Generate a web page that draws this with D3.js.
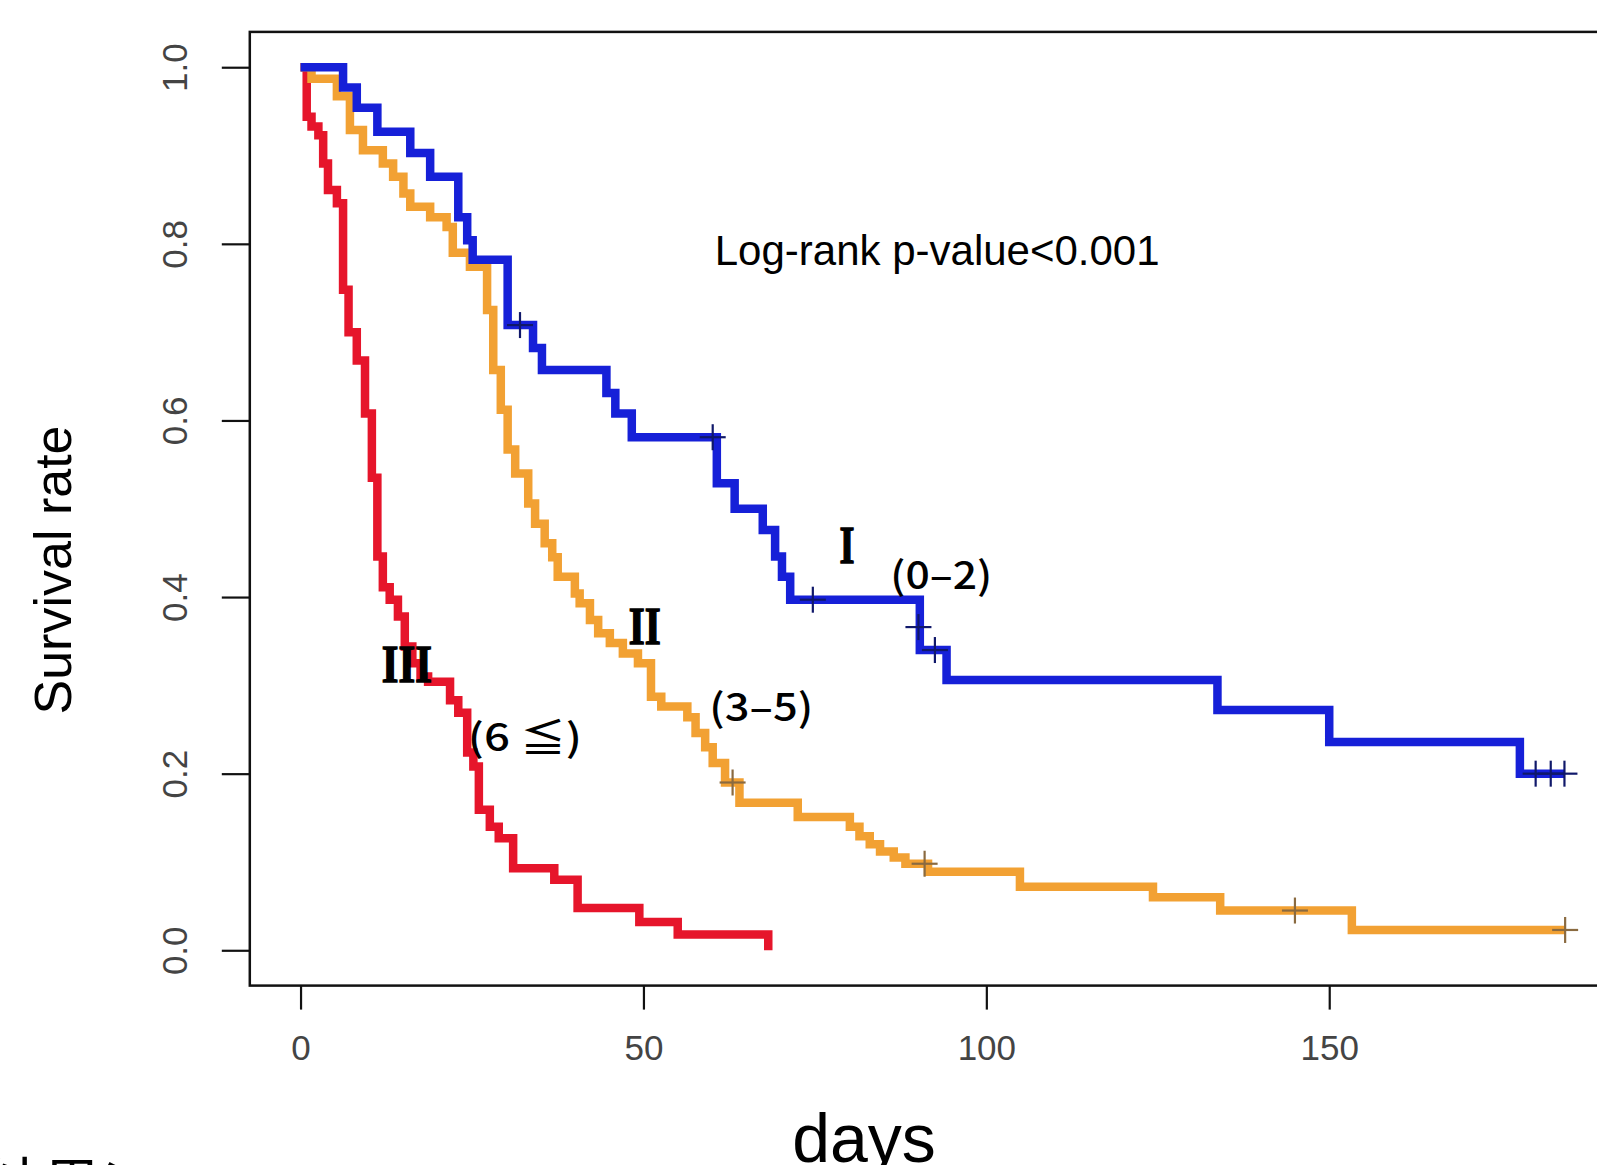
<!DOCTYPE html>
<html>
<head>
<meta charset="utf-8">
<script src="https://cdn.jsdelivr.net/npm/d3@7"></script>
<style>
  html, body { margin: 0; padding: 0; background: #fff; overflow: hidden; }
  svg { display: block; }
</style>
</head>
<body>
<div id="chart"></div>
<script>
// Kaplan-Meier steps: [day, survival after the drop]
const groupISteps = [[0,1],[6.2,0.977],[8.2,0.954],[11.2,0.927],[16.0,0.903],[18.9,0.876],[23.0,0.83],[24.3,0.804],[25.1,0.782],[30.2,0.708],[33.9,0.682],[35.2,0.657],[44.6,0.631],[45.9,0.608],[48.3,0.581],[60.7,0.529],[63.3,0.50],[67.4,0.476],[69.2,0.446],[70.2,0.423],[71.4,0.397],[90.3,0.34],[94.2,0.306],[133.7,0.272],[150.0,0.236],[177.8,0.2],[184.3,0.2]];
const groupIISteps = [[0,1],[1.6,0.987],[5.3,0.967],[7.2,0.929],[9.1,0.906],[12.0,0.891],[13.5,0.876],[15.0,0.857],[16.0,0.842],[18.9,0.83],[21.3,0.819],[22.2,0.79],[24.7,0.774],[27.2,0.725],[28.1,0.657],[29.2,0.612],[30.2,0.567],[31.3,0.54],[33.2,0.506],[34.2,0.483],[35.6,0.461],[36.7,0.445],[37.5,0.423],[40.0,0.404],[40.7,0.393],[42.2,0.374],[43.4,0.359],[45.1,0.348],[47.0,0.336],[49.2,0.325],[51.1,0.287],[52.6,0.276],[56.4,0.264],[57.6,0.246],[59.0,0.23],[60.1,0.212],[61.9,0.19],[64.0,0.167],[72.5,0.151],[80.1,0.14],[81.5,0.129],[83.0,0.12],[84.5,0.112],[86.5,0.105],[88.2,0.098],[91.5,0.089],[104.9,0.072],[124.3,0.06],[134.1,0.045],[153.3,0.023],[184.4,0.023]];
const groupIIISteps = [[0,1],[0.9,0.944],[1.6,0.933],[2.6,0.923],[3.3,0.891],[4.0,0.861],[5.3,0.846],[6.2,0.748],[7.0,0.70],[8.2,0.668],[9.4,0.608],[10.4,0.535],[11.2,0.446],[12.0,0.411],[13.0,0.397],[14.2,0.378],[15.2,0.344],[16.3,0.325],[17.5,0.31],[18.6,0.304],[21.8,0.283],[23.0,0.269],[24.3,0.224],[25.2,0.208],[26.0,0.159],[27.6,0.14],[28.9,0.127],[31.0,0.093],[37.0,0.08],[40.4,0.048],[49.4,0.032],[55.0,0.018],[68.2,0]];

// censored observations ("+" marks)
const groupICensored = [[32.0,0.708],[60.1,0.581],[74.7,0.397],[90.1,0.366],[92.5,0.34],[180.1,0.2],[182.3,0.2],[184.3,0.2]];
const groupIICensored = [[63.0,0.19],[91.0,0.098],[145.0,0.045],[184.4,0.023]];

const xTicks = [0, 50, 100, 150];
const yTicks = [0, 0.2, 0.4, 0.6, 0.8, 1.0];

// text labels placed in data coordinates
const groupLabels = [
  {roman: "I",   rx: 79.7, ry: 0.438, rw: 15, range: "(0–2)", tx: 86.0, ty: 0.409, tw: 102},
  {roman: "II",  rx: 50.2, ry: 0.347, rw: 32, range: "(3–5)", tx: 59.6, ty: 0.260, tw: 104},
  {roman: "III", rx: 15.5, ry: 0.304, rw: 50, range: "(6 ≦)", tx: 24.4, ty: 0.226, tw: 114}
];

const width = 1597, height = 1165;

const svg = d3.select("#chart").append("svg")
    .attr("width", width)
    .attr("height", height)
    .attr("viewBox", `0 0 ${width} ${height}`);

svg.append("rect").attr("width", width).attr("height", height).attr("fill", "#fff");

const x = d3.scaleLinear().domain([-7.4, 192.4]).range([249.8, 1620]);
const y = d3.scaleLinear().domain([-0.04, 1.04]).range([985.6, 31.9]);

// plot box (right side runs off the page)
svg.append("rect")
    .attr("x", x.range()[0])
    .attr("y", y.range()[1])
    .attr("width", x.range()[1] - x.range()[0])
    .attr("height", y.range()[0] - y.range()[1])
    .attr("fill", "none")
    .attr("stroke", "#111")
    .attr("stroke-width", 2.5);

const yAxis = svg.append("g")
    .attr("transform", `translate(${x.range()[0]},0)`)
    .call(d3.axisLeft(y).tickValues(yTicks).tickSize(28).tickFormat(d3.format(".1f")));
yAxis.select(".domain").remove();
yAxis.selectAll(".tick line").attr("stroke", "#111").attr("stroke-width", 2.2);
yAxis.selectAll(".tick text")
    .attr("transform", "rotate(-90)")
    .attr("x", 0).attr("y", -75).attr("dy", null)
    .attr("text-anchor", "middle")
    .attr("dominant-baseline", "central")
    .attr("font-family", "'Liberation Sans', Arial, sans-serif")
    .attr("font-size", 35)
    .attr("fill", "#444");

const xAxis = svg.append("g")
    .attr("transform", `translate(0,${y.range()[0]})`)
    .call(d3.axisBottom(x).tickValues(xTicks).tickSize(24).tickFormat(d3.format("d")));
xAxis.select(".domain").remove();
xAxis.selectAll(".tick line").attr("stroke", "#111").attr("stroke-width", 2.2);
xAxis.selectAll(".tick text")
    .attr("y", 74).attr("dy", null)
    .attr("font-family", "'Liberation Sans', Arial, sans-serif")
    .attr("font-size", 35)
    .attr("fill", "#444");

const line = d3.line()
    .x(d => x(d[0]))
    .y(d => y(d[1]))
    .curve(d3.curveStepAfter);

const curves = [
  {steps: groupIIISteps, color: "#e6152b", censored: [], mark: "#8a1020"},
  {steps: groupIISteps, color: "#f2a133", censored: groupIICensored, mark: "#8a6a40"},
  {steps: groupISteps, color: "#1620d8", censored: groupICensored, mark: "#10186a"}
];

curves.forEach(c => {
  svg.append("path")
      .datum(c.steps)
      .attr("d", line)
      .attr("fill", "none")
      .attr("stroke", c.color)
      .attr("stroke-width", 8.5)
      .attr("stroke-linejoin", "miter");

  const marks = svg.append("g").selectAll("g")
      .data(c.censored)
      .join("g")
      .attr("transform", d => `translate(${x(d[0])},${y(d[1])})`)
      .attr("stroke", c.mark)
      .attr("stroke-width", 2.2);
  marks.append("line").attr("x1", -13).attr("x2", 13);
  marks.append("line").attr("y1", -13).attr("y2", 13);
});

svg.append("text")
    .attr("x", x(60.4))
    .attr("y", y(0.776))
    .attr("font-family", "'Liberation Sans', Arial, sans-serif")
    .attr("font-size", 42)
    .attr("fill", "#000")
    .text("Log-rank p-value<0.001");

groupLabels.forEach(g => {
  svg.append("text")
      .attr("x", x(g.rx) - g.rw / 2)
      .attr("y", y(g.ry))
      .attr("font-family", "'Liberation Serif', 'DejaVu Serif', serif")
      .attr("font-weight", "bold")
      .attr("font-size", 53)
      .attr("textLength", g.rw)
      .attr("lengthAdjust", "spacingAndGlyphs")
      .attr("fill", "#000")
      .attr("stroke", "#000")
      .attr("stroke-width", 1.5)
      .text(g.roman);
  svg.append("text")
      .attr("x", x(g.tx))
      .attr("y", y(g.ty))
      .attr("font-family", "'Noto Sans CJK JP', 'Noto Sans', sans-serif")
      .attr("font-weight", 500)
      .attr("font-size", 38)
      .attr("textLength", g.tw)
      .attr("lengthAdjust", "spacingAndGlyphs")
      .attr("fill", "#000")
      .text(g.range);
});

svg.append("text")
    .attr("transform", "translate(53,570) rotate(-90)")
    .attr("text-anchor", "middle")
    .attr("dominant-baseline", "central")
    .attr("font-family", "'Liberation Sans', Arial, sans-serif")
    .attr("font-size", 52)
    .attr("fill", "#000")
    .text("Survival rate");

// axis title, its lower part runs off the page as in the original
svg.append("text")
    .attr("x", 864)
    .attr("y", 1162)
    .attr("text-anchor", "middle")
    .attr("font-family", "'Liberation Sans', Arial, sans-serif")
    .attr("font-size", 68)
    .attr("fill", "#000")
    .text("days");

// caption cut off at the bottom edge of the page
svg.append("text")
    .attr("x", 159)
    .attr("y", 1206)
    .attr("text-anchor", "end")
    .attr("font-family", "'Noto Sans CJK JP', sans-serif")
    .attr("font-size", 58)
    .attr("fill", "#000")
    .text("＜結果＞");
</script>
</body>
</html>
